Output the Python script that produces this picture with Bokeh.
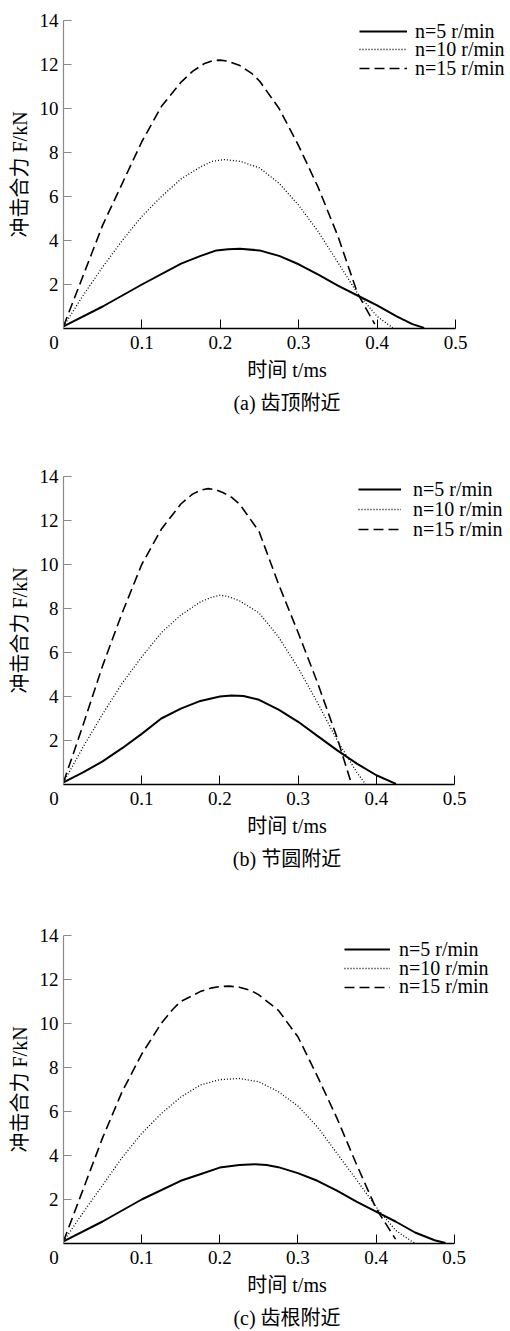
from bokeh.plotting import figure
from bokeh.models import Legend, LegendItem, FixedTicker, Range1d
from bokeh.layouts import column
from bokeh.embed import file_html
from bokeh.resources import INLINE

SERIF = "'Liberation Serif', 'Noto Sans CJK SC'"

series_labels = ["n=5 r/min", "n=10 r/min", "n=15 r/min"]
x_ticks = [0, 0.1, 0.2, 0.3, 0.4, 0.5]
y_ticks = [2, 4, 6, 8, 10, 12, 14]
x_title = "时间 t/ms"
y_title = "冲击合力 F/kN"
captions = ["(a) 齿顶附近", "(b) 节圆附近", "(c) 齿根附近"]

# (a) near tooth tip
a_t5 = [0, 0.05, 0.1, 0.15, 0.175, 0.195, 0.21, 0.225, 0.25, 0.275, 0.3, 0.325, 0.35, 0.375, 0.4, 0.425, 0.445, 0.46]
a_f5 = [0.1, 1.0, 2.0, 2.95, 3.3, 3.55, 3.6, 3.62, 3.55, 3.3, 2.92, 2.45, 1.95, 1.5, 1.05, 0.55, 0.2, 0.03]
a_t10 = [0, 0.025, 0.05, 0.075, 0.1, 0.125, 0.15, 0.175, 0.19, 0.205, 0.225, 0.25, 0.275, 0.3, 0.325, 0.35, 0.375, 0.4, 0.42]
a_f10 = [0.1, 1.5, 2.8, 4.0, 5.1, 6.0, 6.8, 7.35, 7.6, 7.68, 7.6, 7.3, 6.6, 5.6, 4.4, 3.0, 1.6, 0.55, 0.03]
a_t15 = [0, 0.025, 0.05, 0.075, 0.1, 0.125, 0.15, 0.165, 0.18, 0.19, 0.2, 0.21, 0.225, 0.24, 0.25, 0.275, 0.3, 0.325, 0.35, 0.375, 0.397]
a_f15 = [0.1, 2.4, 4.7, 6.6, 8.5, 10.1, 11.2, 11.7, 12.05, 12.17, 12.2, 12.15, 11.95, 11.6, 11.25, 10.0, 8.3, 6.4, 4.2, 1.6, 0.2]

# (b) near pitch circle
b_t5 = [0, 0.025, 0.05, 0.075, 0.1, 0.125, 0.15, 0.175, 0.2, 0.215, 0.23, 0.25, 0.275, 0.3, 0.325, 0.35, 0.375, 0.4, 0.425]
b_f5 = [0.1, 0.55, 1.05, 1.65, 2.3, 3.0, 3.45, 3.8, 4.0, 4.05, 4.02, 3.85, 3.4, 2.85, 2.2, 1.55, 0.95, 0.42, 0.03]
b_t10 = [0, 0.025, 0.05, 0.075, 0.1, 0.125, 0.15, 0.175, 0.19, 0.2, 0.21, 0.225, 0.25, 0.275, 0.3, 0.325, 0.35, 0.375, 0.386]
b_f10 = [0.1, 1.7, 3.2, 4.6, 5.8, 6.9, 7.7, 8.3, 8.52, 8.6, 8.55, 8.35, 7.8, 6.7, 5.3, 3.7, 2.0, 0.55, 0.02]
b_t15 = [0, 0.025, 0.05, 0.075, 0.1, 0.125, 0.15, 0.165, 0.175, 0.185, 0.195, 0.205, 0.215, 0.225, 0.25, 0.275, 0.3, 0.325, 0.35, 0.368]
b_f15 = [0.1, 2.7, 5.4, 7.8, 10.0, 11.6, 12.75, 13.2, 13.38, 13.45, 13.4, 13.25, 13.05, 12.75, 11.5, 9.1, 6.9, 4.6, 2.1, 0.05]

# (c) near tooth root
c_t5 = [0, 0.05, 0.1, 0.15, 0.175, 0.2, 0.225, 0.245, 0.26, 0.275, 0.3, 0.325, 0.35, 0.375, 0.4, 0.425, 0.45, 0.475, 0.489]
c_f5 = [0.1, 1.0, 2.0, 2.85, 3.15, 3.45, 3.57, 3.6, 3.57, 3.47, 3.2, 2.85, 2.4, 1.9, 1.45, 1.0, 0.5, 0.15, 0.02]
c_t10 = [0, 0.025, 0.05, 0.075, 0.1, 0.125, 0.15, 0.175, 0.2, 0.225, 0.25, 0.275, 0.3, 0.325, 0.35, 0.375, 0.4, 0.425, 0.449]
c_f10 = [0.1, 1.4, 2.65, 3.9, 5.0, 5.9, 6.65, 7.2, 7.45, 7.5, 7.35, 6.9, 6.25, 5.3, 4.1, 2.9, 1.67, 0.6, 0.02]
c_t15 = [0, 0.025, 0.05, 0.075, 0.1, 0.125, 0.14, 0.15, 0.175, 0.19, 0.2, 0.212, 0.225, 0.24, 0.25, 0.275, 0.3, 0.325, 0.35, 0.375, 0.4, 0.425]
c_f15 = [0.1, 2.45, 4.8, 6.9, 8.6, 10.0, 10.65, 11.0, 11.45, 11.62, 11.68, 11.7, 11.65, 11.5, 11.3, 10.6, 9.4, 7.6, 5.7, 3.6, 1.6, 0.2]

STYLES = [
    dict(line_width=2.0, line_dash="solid"),
    dict(line_width=1.3, line_dash="1 2"),
    dict(line_width=1.6, line_dash="10 5"),
]


def make_panel(data, caption, height, border_left, border_top, border_bottom, px_per_ms,
               leg_x, row_centers, glyph_w, standoff):
    width = 510
    frame_w = width - border_left
    xmax = frame_w / px_per_ms
    p = figure(width=width, height=height, output_backend="svg", toolbar_location=None,
               x_range=Range1d(0, xmax), y_range=Range1d(0, 14),
               min_border_left=border_left, min_border_right=0,
               min_border_top=border_top, min_border_bottom=border_bottom)
    p.xgrid.visible = False
    p.ygrid.visible = False
    p.outline_line_color = None
    p.background_fill_color = "white"
    p.border_fill_color = "white"

    renderers = []
    for (t, f), st in zip(data, STYLES):
        r = p.line(t, f, line_color="black", line_join="round", **st)
        renderers.append(r)

    xa = p.xaxis[0]
    xa.bounds = (0, 0.5)
    xa.ticker = FixedTicker(ticks=x_ticks)
    xa.major_label_overrides = {0: "0\u00a0\u00a0\u00a0\u00a0"}
    xa.minor_tick_line_color = None
    xa.major_tick_in = 9
    xa.major_tick_out = 0
    xa.axis_line_color = "black"
    xa.axis_line_width = 1.3
    xa.major_tick_line_color = "black"
    xa.major_label_text_font = SERIF
    xa.major_label_text_font_size = "19px"
    xa.major_label_text_color = "black"
    xa.major_label_standoff = 3
    xa.axis_label = x_title + "\n" + caption
    xa.axis_label_text_font = SERIF
    xa.axis_label_text_font_size = "20px"
    xa.axis_label_text_font_style = "normal"
    xa.axis_label_text_color = "black"
    xa.axis_label_text_line_height = 1.5
    xa.axis_label_standoff = 3

    ya = p.yaxis[0]
    ya.bounds = (0, 14)
    ya.ticker = FixedTicker(ticks=y_ticks)
    ya.minor_tick_line_color = None
    ya.major_tick_in = 8
    ya.major_tick_out = 0
    ya.axis_line_color = "#8a8a8a"
    ya.axis_line_width = 1.2
    ya.major_tick_line_color = "#8a8a8a"
    ya.major_label_text_font = SERIF
    ya.major_label_text_font_size = "19px"
    ya.major_label_text_color = "black"
    ya.major_label_standoff = 5
    ya.axis_label = y_title
    ya.axis_label_text_font = SERIF
    ya.axis_label_text_font_size = "20px"
    ya.axis_label_text_font_style = "normal"
    ya.axis_label_text_color = "black"
    ya.axis_label_standoff = 6

    # one legend per row so the row pitch can follow the reference
    for lab, r, cy in zip(series_labels, renderers, row_centers):
        leg = Legend(items=[LegendItem(label=lab, renderers=[r])],
                     location=(leg_x, cy - 11.5), padding=0, margin=0, spacing=0,
                     glyph_width=glyph_w, glyph_height=10, label_height=10,
                     label_standoff=standoff, border_line_color=None,
                     background_fill_alpha=0, label_text_font=SERIF,
                     label_text_font_size="20px", label_text_color="black")
        p.add_layout(leg)
    return p


pa = make_panel([(a_t5, a_f5), (a_t10, a_f10), (a_t15, a_f15)], captions[0],
                464, 63, 20, 136, 784, 296, [297, 278.7, 259.7], 48, 8)
pb = make_panel([(b_t5, b_f5), (b_t10, b_f10), (b_t15, b_f15)], captions[1],
                459, 62, 12, 139, 784, 295, [294.7, 274.7, 254.7], 43, 12)
pc = make_panel([(c_t5, c_f5), (c_t10, c_f10), (c_t15, c_f15)], captions[2],
                408, 62, 12, 88, 783, 281, [293.7, 274.7, 256.3], 46, 9)

layout = column(pa, pb, pc, spacing=0)
open("out.html", "w").write(file_html(layout, INLINE))
